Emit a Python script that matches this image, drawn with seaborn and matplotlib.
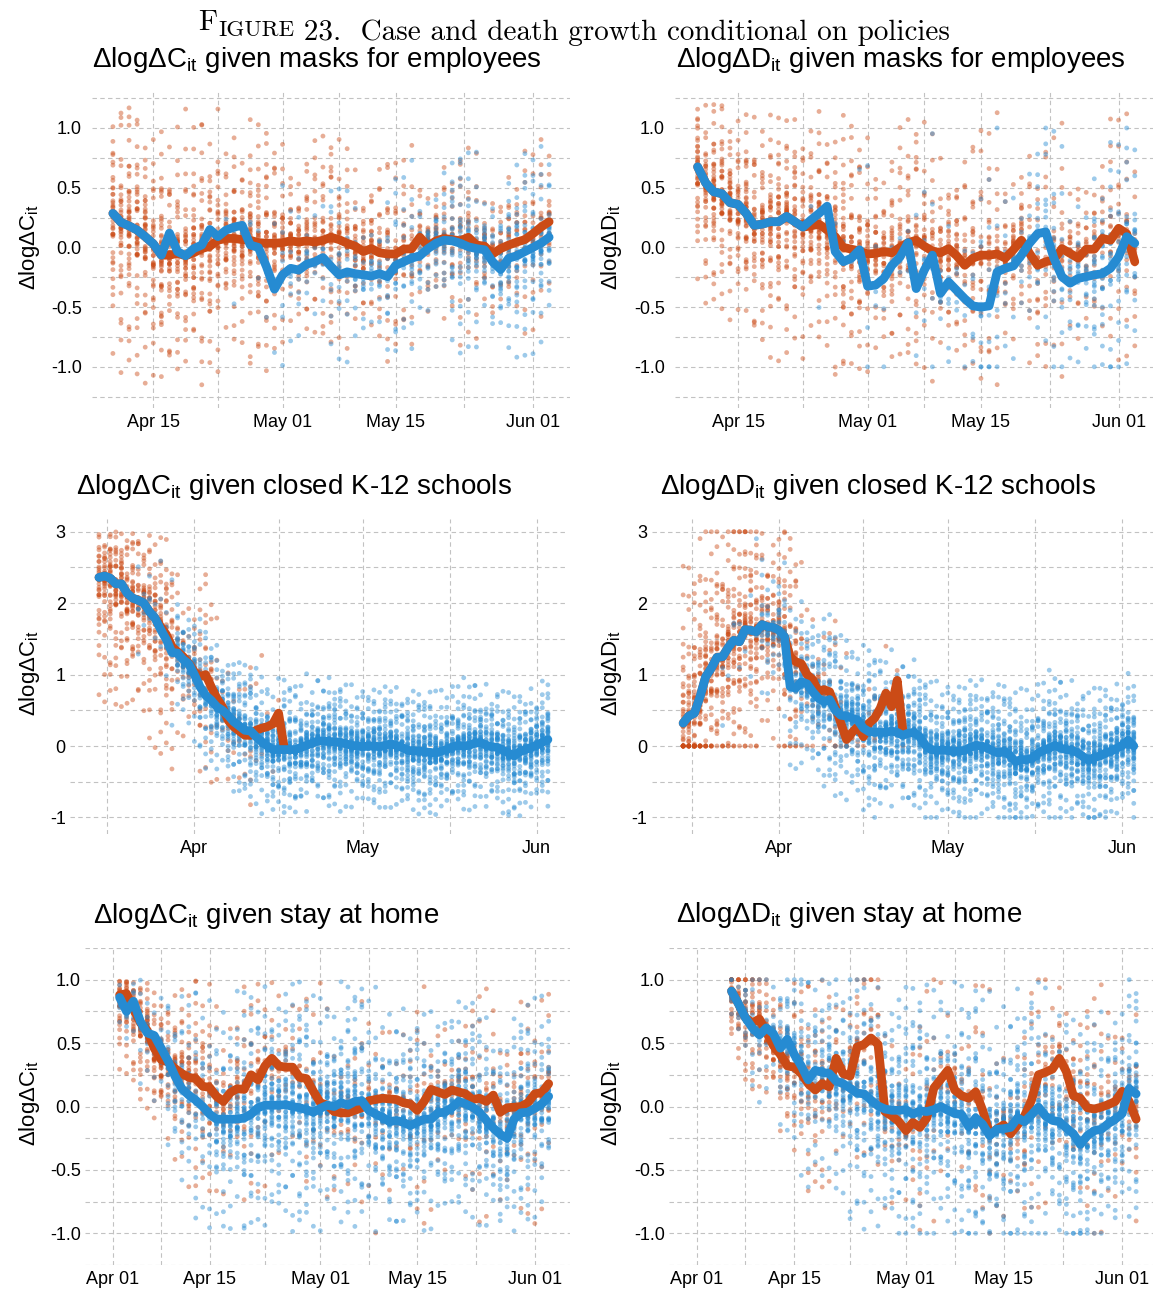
import numpy as np
import pandas as pd
import matplotlib
matplotlib.use("Agg")
import matplotlib.pyplot as plt
from matplotlib.text import Annotation
import seaborn as sns

ORANGE = "#cb4b16"
BLUE = "#268bd2"
PAL = {"orange": ORANGE, "blue": BLUE}

# ---------------- daily mean lines ----------------
# panel 1: cases, masks for employees (from Apr 10)
p1_start = "2020-04-10"
p1_orange = [0.285, 0.21, 0.18, 0.145, 0.09, 0.03, -0.065, -0.065, -0.05, -0.07, -0.045, -0.01, 0.01, 0.06,
             0.075, 0.075, 0.065, 0.06, 0.04, 0.035, 0.035,
             0.04, 0.055, 0.045, 0.055, 0.045, 0.06, 0.085, 0.065, 0.035, 0.01, -0.035, -0.01, -0.045, -0.055,
             -0.055, -0.015, -0.01, 0.085, 0.01, 0.055, 0.075, 0.065, 0.055, 0.085, 0.02, 0.01, -0.055, -0.01,
             0.02, 0.045, 0.065,
             0.115, 0.17, 0.215]
p1_blue = [0.285, 0.21, 0.18, 0.145, 0.09, 0.03, -0.065, 0.12, -0.035, -0.07, -0.01, 0.02, 0.15, 0.09,
           0.145, 0.17, 0.185, 0.02, 0.0, -0.16, -0.35,
           -0.23, -0.175, -0.19, -0.14, -0.12, -0.085, -0.16, -0.23, -0.205, -0.22, -0.23, -0.24, -0.22, -0.245,
           -0.15, -0.12, -0.09, -0.07, -0.01, 0.035, 0.06, 0.055, 0.035, 0.005, -0.01, -0.02, -0.12, -0.185,
           -0.09, -0.07, -0.035,
           0.0, 0.035, 0.085]

# panel 2: deaths, masks for employees (from Apr 10)
p2_start = "2020-04-10"
p2_orange = [0.675, 0.54, 0.465, 0.45, 0.375, 0.36, 0.285, 0.185, 0.195, 0.215, 0.215, 0.26, 0.215, 0.17,
             0.18, 0.195, 0.145, 0.09, 0.0, -0.015, -0.03,
             -0.055, -0.05, -0.035, -0.045, 0.0, 0.04, 0.06, 0.01, -0.03, -0.045, -0.01, -0.07, -0.15, -0.09,
             -0.065, -0.065, -0.055, -0.09, -0.02, 0.06, -0.05, -0.15, -0.12, -0.105, -0.01, -0.05, -0.09, -0.015,
             -0.015, 0.075, 0.06,
             0.16, 0.115, -0.12]
p2_blue = [0.675, 0.54, 0.465, 0.45, 0.375, 0.36, 0.285, 0.185, 0.195, 0.215, 0.215, 0.26, 0.215, 0.17,
           0.23, 0.285, 0.345, -0.035, -0.12, -0.09, -0.02,
           -0.325, -0.315, -0.26, -0.15, -0.08, 0.04, -0.345, -0.19, -0.065, -0.385, -0.29, -0.36, -0.43, -0.49,
           -0.5, -0.49, -0.205, -0.175, -0.155, -0.065, 0.035, 0.115, 0.13, -0.09, -0.245, -0.3, -0.26, -0.245,
           -0.23, -0.22, -0.175,
           -0.08, 0.09, 0.035]

# panel 3: cases, closed K-12 schools (from Mar 15)
p3_start = "2020-03-15"
p3_orange = [2.36, 2.38, 2.35, 2.27, 2.27, 2.14, 2.07, 2.04, 2.0, 1.88, 1.79, 1.67, 1.56, 1.39, 1.32, 1.25, 1.16,
             1.04, 0.97, 1.0, 0.83, 0.67, 0.55, 0.36, 0.27, 0.21, 0.15, 0.15, 0.22, 0.25, 0.27, 0.31, 0.46, -0.02]
p3_blue = [2.36, 2.38, 2.35, 2.27, 2.27, 2.14, 2.07, 2.04, 2.0, 1.88, 1.79, 1.63, 1.49, 1.31, 1.30, 1.21, 1.15,
           1.0, 0.83, 0.71, 0.64, 0.55, 0.50, 0.43, 0.34, 0.28, 0.22, 0.21, 0.13, 0.06, 0.0, -0.05, -0.05, -0.05,
           -0.05, -0.05, -0.02, 0.01, 0.04, 0.07, 0.07, 0.06, 0.06, 0.05, 0.03, 0.01, 0.0,
           -0.01, 0.0, 0.0, -0.01, 0.01, 0.03, 0.01, -0.02, -0.06, -0.07, -0.07, -0.08, -0.09, -0.10, -0.07, -0.05,
           -0.01, 0.01, 0.0, 0.01, 0.04, 0.05, 0.01, -0.01, -0.02, -0.06, -0.10, -0.14, -0.08, -0.05, -0.02,
           0.01, 0.05, 0.09]

# panel 4: deaths, closed K-12 schools (from Mar 15)
p4_start = "2020-03-15"
p4_orange = [0.32, 0.42, 0.46, 0.69, 0.97, 1.09, 1.24, 1.25, 1.38, 1.48, 1.46, 1.63, 1.62, 1.60, 1.70, 1.67, 1.66,
             1.62, 1.53, 1.25, 1.18, 1.15, 1.0, 0.93, 0.76, 0.79, 0.76, 0.55, 0.32, 0.09, 0.19, 0.27, 0.13, 0.32,
             0.39, 0.53, 0.74, 0.55, 0.92, 0.22]
p4_blue = [0.32, 0.42, 0.46, 0.69, 0.97, 1.09, 1.24, 1.25, 1.38, 1.48, 1.46, 1.63, 1.62, 1.60, 1.70, 1.67, 1.66,
           1.62, 1.53, 0.83, 0.81, 0.90, 0.87, 0.76, 0.67, 0.62, 0.65, 0.50, 0.43, 0.42, 0.39, 0.36, 0.25, 0.20,
           0.20, 0.19, 0.19, 0.21, 0.19, 0.15, 0.18, 0.19, 0.13, 0.01, -0.05, -0.06, -0.06,
           -0.06, -0.08, -0.07, -0.06, -0.02, 0.01, 0.0, -0.03, -0.07, -0.10, -0.07, -0.13, -0.22, -0.19, -0.19,
           -0.17, -0.10, -0.06, -0.03, 0.01, -0.03, -0.05, -0.06, -0.09, -0.15, -0.20, -0.16, -0.14, -0.10, -0.07,
           -0.03,
           0.01, 0.08, 0.0]

# panel 5: cases, stay at home (from Apr 02)
p5_start = "2020-04-02"
p5_orange = [0.88, 0.89, 0.77, 0.66, 0.60, 0.46, 0.37, 0.35, 0.30, 0.26, 0.23, 0.22, 0.16, 0.15, 0.08, 0.04, 0.11,
             0.14, 0.135, 0.25, 0.21, 0.32, 0.38, 0.32, 0.31, 0.31, 0.23, 0.22, 0.12,
             0.03, 0.01, -0.04, -0.05, -0.05, -0.03, -0.01, 0.045, 0.055, 0.065, 0.06, 0.055, 0.03, 0.02, -0.03,
             0.04, 0.135, 0.115, 0.095, 0.13, 0.115, 0.10, 0.055, 0.065, 0.04, 0.09, -0.045, -0.01, -0.005, 0.0,
             0.03,
             0.10, 0.11, 0.18]
p5_blue = [0.86, 0.75, 0.83, 0.67, 0.58, 0.56, 0.46, 0.36, 0.24, 0.14, 0.09, 0.05, 0.0, -0.06, -0.10, -0.10,
           -0.10, -0.10, -0.09, -0.06, -0.01, 0.01, 0.01, 0.01, 0.015, 0.0, -0.01, -0.025, -0.045,
           -0.015, 0.01, 0.0, 0.03, 0.01, 0.04, 0.045, -0.03, -0.06, -0.085, -0.12, -0.11, -0.125, -0.15, -0.125,
           -0.10, -0.10, -0.05, -0.045, -0.01, 0.04, 0.02, -0.005, -0.045, -0.11, -0.17, -0.22, -0.25, -0.10,
           -0.05, -0.045,
           -0.015, 0.02, 0.08]

# panel 6: deaths, stay at home (from Apr 06)
p6_start = "2020-04-06"
p6_orange = [0.91, 0.81, 0.70, 0.66, 0.69, 0.59, 0.48, 0.41, 0.32, 0.31, 0.26, 0.18, 0.13, 0.18, 0.155, 0.38,
             0.26, 0.24, 0.47, 0.49, 0.54, 0.49, -0.04, -0.075, -0.12,
             -0.19, -0.125, -0.165, -0.09, 0.145, 0.215, 0.285, 0.13, 0.085, 0.065, 0.115, -0.03, -0.215, -0.18,
             -0.145, -0.215, -0.145, -0.075, 0.05, 0.25, 0.27, 0.295, 0.38, 0.275, 0.085, 0.065, -0.01, -0.02,
             -0.005, 0.015, 0.04,
             0.12, 0.04, -0.10]
p6_blue = [0.91, 0.81, 0.70, 0.62, 0.565, 0.62, 0.575, 0.46, 0.53, 0.41, 0.32, 0.21, 0.285, 0.27, 0.26, 0.20,
           0.18, 0.145, 0.105, 0.10, 0.05, 0.005, -0.02, -0.03, -0.03,
           -0.025, -0.06, -0.035, -0.04, -0.025, 0.0, -0.03, -0.055, -0.065, -0.16, -0.09, -0.14, -0.23, -0.18,
           -0.175, -0.165, -0.09, -0.12, -0.065, -0.005, -0.075, -0.11, -0.12, -0.17, -0.215, -0.30, -0.23, -0.19,
           -0.18, -0.135, -0.10,
           -0.055, 0.14, 0.10]

# ---------------- state-level clouds: points per day and spread, by week ----------------
p1_n_orange = [44, 40, 36, 30, 26, 22, 20, 18]
p1_n_blue = [0, 0, 2, 8, 12, 18, 24, 28]
p1_sd_orange = [0.30, 0.27, 0.25, 0.22, 0.21, 0.19, 0.19, 0.19]
p1_sd_blue = [0.22, 0.22, 0.22, 0.20, 0.18, 0.18, 0.20, 0.21]

p2_n_orange = [44, 40, 36, 30, 26, 22, 18, 16]
p2_n_blue = [0, 0, 1, 3, 6, 10, 14, 20]
p2_sd_orange = [0.24, 0.27, 0.28, 0.26, 0.26, 0.26, 0.26, 0.26]
p2_sd_blue = [0.27, 0.27, 0.27, 0.27, 0.27, 0.27, 0.27, 0.27]

p3_n_orange = [40, 34, 16, 6, 2]
p3_n_blue = [0, 4, 26, 38, 42, 44, 44, 44, 44, 44, 44, 44]
p3_sd_orange = [0.42, 0.42, 0.38, 0.30, 0.27]
p3_sd_blue = [0.25, 0.25, 0.24, 0.23, 0.24, 0.22, 0.21, 0.21, 0.21, 0.21, 0.21, 0.22]

p4_n_orange = [40, 38, 28, 10, 4, 1]
p4_n_blue = [0, 2, 14, 36, 42, 44, 44, 44, 44, 44, 44, 44]
p4_sd_orange = [0.55, 0.50, 0.45, 0.38, 0.32, 0.27]
p4_sd_blue = [0.27, 0.32, 0.32, 0.30, 0.28, 0.25, 0.24, 0.24, 0.24, 0.24, 0.24, 0.24]

p5_n_orange = [38, 28, 15, 10, 8, 8, 10, 12, 14, 14]
p5_n_blue = [8, 20, 34, 40, 42, 42, 40, 38, 36, 36]
p5_sd_orange = [0.15, 0.20, 0.25, 0.25, 0.25, 0.25, 0.23, 0.23, 0.25, 0.25]
p5_sd_blue = [0.14, 0.22, 0.25, 0.25, 0.23, 0.22, 0.21, 0.21, 0.21, 0.21]

p6_n_orange = [30, 22, 14, 10, 9, 10, 12, 14, 14]
p6_n_blue = [10, 26, 36, 40, 40, 40, 38, 36, 36]
p6_sd_orange = [0.13, 0.20, 0.25, 0.25, 0.25, 0.25, 0.25, 0.25, 0.25]
p6_sd_blue = [0.13, 0.20, 0.25, 0.25, 0.25, 0.25, 0.25, 0.24, 0.24]

# standardised deviations of the states around the daily mean (heavy tailed)
OFFSETS = [0.05, -0.35, 0.6, -0.9, 1.3, -1.6, 0.25, -0.15, 0.85, -0.55, 2.1, -2.3, 0.4, -0.7, 1.05, -1.2,
           -0.05, 0.15, 1.7, -1.9, 0.7, -0.45, -1.0, 1.5, 3.4, -3.6, 0.3, -0.25, 2.6, -2.8, 0.95, -0.8, 0.5,
           -0.6, 1.2, -1.4, 4.1, -4.3, 0.1, -0.1, 1.85, -2.05, 0.75, -0.3, 0.2, -0.5, 1.1, -1.1, 3.0, -3.1,
           0.35, -0.65, 2.3, -1.75, 0.55, -0.2]

# ---------------- tick labels ----------------
ticks_a = ["2020-04-15 00:00", "2020-05-01 00:00", "2020-05-15 00:00", "2020-06-01 00:00"]
labels_a = ["Apr 15", "May 01", "May 15", "Jun 01"]
minor_a = ["2020-04-23 00:00", "2020-05-08 00:00", "2020-05-23 12:00"]
ticks_b = ["2020-04-01 00:00", "2020-05-01 00:00", "2020-06-01 00:00"]
labels_b = ["Apr", "May", "Jun"]
minor_b = ["2020-03-16 12:00", "2020-04-16 00:00", "2020-05-16 12:00"]
ticks_c = ["2020-04-01 00:00", "2020-04-15 00:00", "2020-05-01 00:00", "2020-05-15 00:00", "2020-06-01 00:00"]
labels_c = ["Apr 01", "Apr 15", "May 01", "May 15", "Jun 01"]
minor_c = ["2020-04-08 00:00", "2020-04-23 00:00", "2020-05-08 00:00", "2020-05-23 12:00"]

yt_half = [-1.0, -0.5, 0.0, 0.5, 1.0]
yl_half = ["-1.0", "-0.5", "0.0", "0.5", "1.0"]
ym_half = [-1.25, -0.75, -0.25, 0.25, 0.75, 1.25]
yt_one = [-1, 0, 1, 2, 3]
yl_one = ["-1", "0", "1", "2", "3"]
ym_one = [-0.5, 0.5, 1.5, 2.5]


def cloud(start, means, counts, spreads, limits, group):
    # limits = (low, high, drop): values outside are dropped, or capped when drop is False
    lo, hi, drop = limits
    dates = pd.date_range(start, periods=len(means))
    n_off = len(OFFSETS)
    rows = []
    for i, (d, m) in enumerate(zip(dates, means)):
        w = min(i // 7, len(counts) - 1)
        for k in range(counts[w]):
            z = OFFSETS[(k + 7 * i) % n_off] + 0.3 * OFFSETS[(3 * k + 11 * i + 5) % n_off]
            y = m + spreads[w] * z
            if drop and (y < lo or y > hi):
                continue
            rows.append((d, float(np.clip(y, lo, hi)), group))
    return rows


def lines(start, orange, blue):
    d1 = pd.DataFrame({"date": pd.date_range(start, periods=len(orange)), "value": orange, "group": "orange"})
    d2 = pd.DataFrame({"date": pd.date_range(start, periods=len(blue)), "value": blue, "group": "blue"})
    return pd.concat([d1, d2], ignore_index=True)


def to_dates(items):
    return [pd.Timestamp(s) for s in items]


sns.set_style("white")
plt.rcParams["font.family"] = ["Liberation Sans", "DejaVu Sans"]
plt.rcParams["mathtext.fontset"] = "custom"
plt.rcParams["mathtext.rm"] = "Liberation Sans"
plt.rcParams["mathtext.it"] = "Liberation Sans:italic"
plt.rcParams["mathtext.bf"] = "Liberation Sans:bold"
plt.rcParams["text.color"] = "black"

W, H = 1156, 1290
fig = plt.figure(figsize=(W / 100, H / 100), dpi=100)

C = r"ΔlogΔC$_{\mathrm{it}}$"
D = r"ΔlogΔD$_{\mathrm{it}}$"

panels = [
    dict(title=C + " given masks for employees", ylab=C, start=p1_start, o=p1_orange, b=p1_blue,
         no=p1_n_orange, nb=p1_n_blue, so=p1_sd_orange, sb=p1_sd_blue,
         co=(-1.2, 1.2, True), cb=(-1.2, 1.2, True),
         box=(91.7, 570, 91.7, 408), xlim=("2020-04-07 09:00", "2020-06-05 14:00"), ylim=(-1.345, 1.304),
         xt=(ticks_a, labels_a, minor_a), yt=(yt_half, yl_half, ym_half), ypad=7.2, tx=92, ty=66.7),
    dict(title=D + " given masks for employees", ylab=D, start=p2_start, o=p2_orange, b=p2_blue,
         no=p2_n_orange, nb=p2_n_blue, so=p2_sd_orange, sb=p2_sd_blue,
         co=(-1.15, 1.2, True), cb=(-1.0, 1.0, False),
         box=(675, 1153, 91.7, 408), xlim=("2020-04-07 05:00", "2020-06-05 06:00"), ylim=(-1.345, 1.304),
         xt=(ticks_a, labels_a, minor_a), yt=(yt_half, yl_half, ym_half), ypad=7.2, tx=675.5, ty=66.7),
    dict(title=C + " given closed K-12 schools", ylab=C, start=p3_start, o=p3_orange, b=p3_blue,
         no=p3_n_orange, nb=p3_n_blue, so=p3_sd_orange, sb=p3_sd_blue,
         co=(-1.0, 3.0, True), cb=(-1.0, 3.0, True),
         box=(70, 568, 519.3, 834), xlim=("2020-03-09 20:00", "2020-06-06 14:00"), ylim=(-1.232, 3.174),
         xt=(ticks_b, labels_b, minor_b), yt=(yt_one, yl_one, ym_one), ypad=3.0, tx=76, ty=494.3),
    dict(title=D + " given closed K-12 schools", ylab=D, start=p4_start, o=p4_orange, b=p4_blue,
         no=p4_n_orange, nb=p4_n_blue, so=p4_sd_orange, sb=p4_sd_blue,
         co=(0.0, 3.0, False), cb=(-1.0, 3.0, False),
         box=(651.7, 1153, 519.3, 834), xlim=("2020-03-09 10:00", "2020-06-06 10:00"), ylim=(-1.232, 3.174),
         xt=(ticks_b, labels_b, minor_b), yt=(yt_one, yl_one, ym_one), ypad=3.0, tx=659.6, ty=494.3),
    dict(title=C + " given stay at home", ylab=C, start=p5_start, o=p5_orange, b=p5_blue,
         no=p5_n_orange, nb=p5_n_blue, so=p5_sd_orange, sb=p5_sd_blue,
         co=(-1.0, 1.0, True), cb=(-1.0, 1.0, True),
         box=(85, 570, 948, 1265), xlim=("2020-03-28 00:00", "2020-06-06 02:00"), ylim=(-1.138, 1.079),
         xt=(ticks_c, labels_c, minor_c), yt=(yt_half, yl_half, ym_half), ypad=3.0, tx=92.6, ty=922.7),
    dict(title=D + " given stay at home", ylab=D, start=p6_start, o=p6_orange, b=p6_blue,
         no=p6_n_orange, nb=p6_n_blue, so=p6_sd_orange, sb=p6_sd_blue,
         co=(-1.0, 1.0, False), cb=(-1.0, 1.0, False),
         box=(669, 1153, 948, 1265), xlim=("2020-03-28 01:00", "2020-06-05 10:00"), ylim=(-1.138, 1.079),
         xt=(ticks_c, labels_c, minor_c), yt=(yt_half, yl_half, ym_half), ypad=3.0, tx=675.5, ty=921.7),
]

for p in panels:
    l, r, t, b = p["box"]
    ax = fig.add_axes([l / W, 1 - b / H, (r - l) / W, (b - t) / H])
    pts = pd.DataFrame(cloud(p["start"], p["o"], p["no"], p["so"], p["co"], "orange")
                       + cloud(p["start"], p["b"], p["nb"], p["sb"], p["cb"], "blue"),
                       columns=["date", "value", "group"])
    sns.scatterplot(data=pts, x="date", y="value", hue="group", palette=PAL, s=12, alpha=0.45,
                    linewidth=0, legend=False, ax=ax, zorder=2)
    sns.lineplot(data=lines(p["start"], p["o"], p["b"]), x="date", y="value", hue="group",
                 hue_order=["orange", "blue"], palette=PAL, linewidth=6.3, estimator=None,
                 legend=False, ax=ax, zorder=3)
    for ln in ax.lines:
        ln.set_solid_joinstyle("round")

    ax.set_xlim(pd.Timestamp(p["xlim"][0]), pd.Timestamp(p["xlim"][1]))
    ax.set_ylim(*p["ylim"])
    xt, xl, xm = p["xt"]
    ax.set_xticks(to_dates(xt), labels=xl)
    ax.set_xticks(to_dates(xm), minor=True)
    yt, yl, ym = p["yt"]
    ax.set_yticks(yt, labels=yl)
    ax.set_yticks(ym, minor=True)
    ax.grid(True, which="both", color="#c2c2c2", linestyle=(0, (4, 3)), linewidth=0.8)
    ax.set_axisbelow(True)
    ax.tick_params(which="both", length=0, labelsize=13, colors="black")
    ax.tick_params(axis="y", pad=p["ypad"])
    ax.tick_params(axis="x", pad=4)
    for s in ax.spines.values():
        s.set_visible(False)
    ax.set_xlabel("")
    ax.set_ylabel("")

    fig.text(p["tx"] / W, 1 - p["ty"] / H, p["title"], fontsize=20, ha="left", va="baseline",
             color="black")
    ylx = 29 if l < 300 else 611
    fig.text(ylx / W, 1 - ((t + b) / 2 - 3) / H, p["ylab"], fontsize=16, rotation=90,
             ha="center", va="center", color="black")

# figure caption in small caps style
t1 = fig.text(198 / W, 1 - 30.5 / H, "F", fontsize=21, family="cmr10", va="baseline", color="black")
a1 = Annotation("IGURE", xy=(1, 0), xycoords=t1, xytext=(0.6, 0), textcoords="offset points",
                fontsize=16.5, family="cmr10", va="baseline", color="black")
fig.add_artist(a1)
a2 = Annotation(" 23.  Case and death growth conditional on policies", xy=(1, 0), xycoords=a1,
                fontsize=21, family="cmr10", va="baseline", color="black")
fig.add_artist(a2)

fig.savefig("out.png", dpi=100)
